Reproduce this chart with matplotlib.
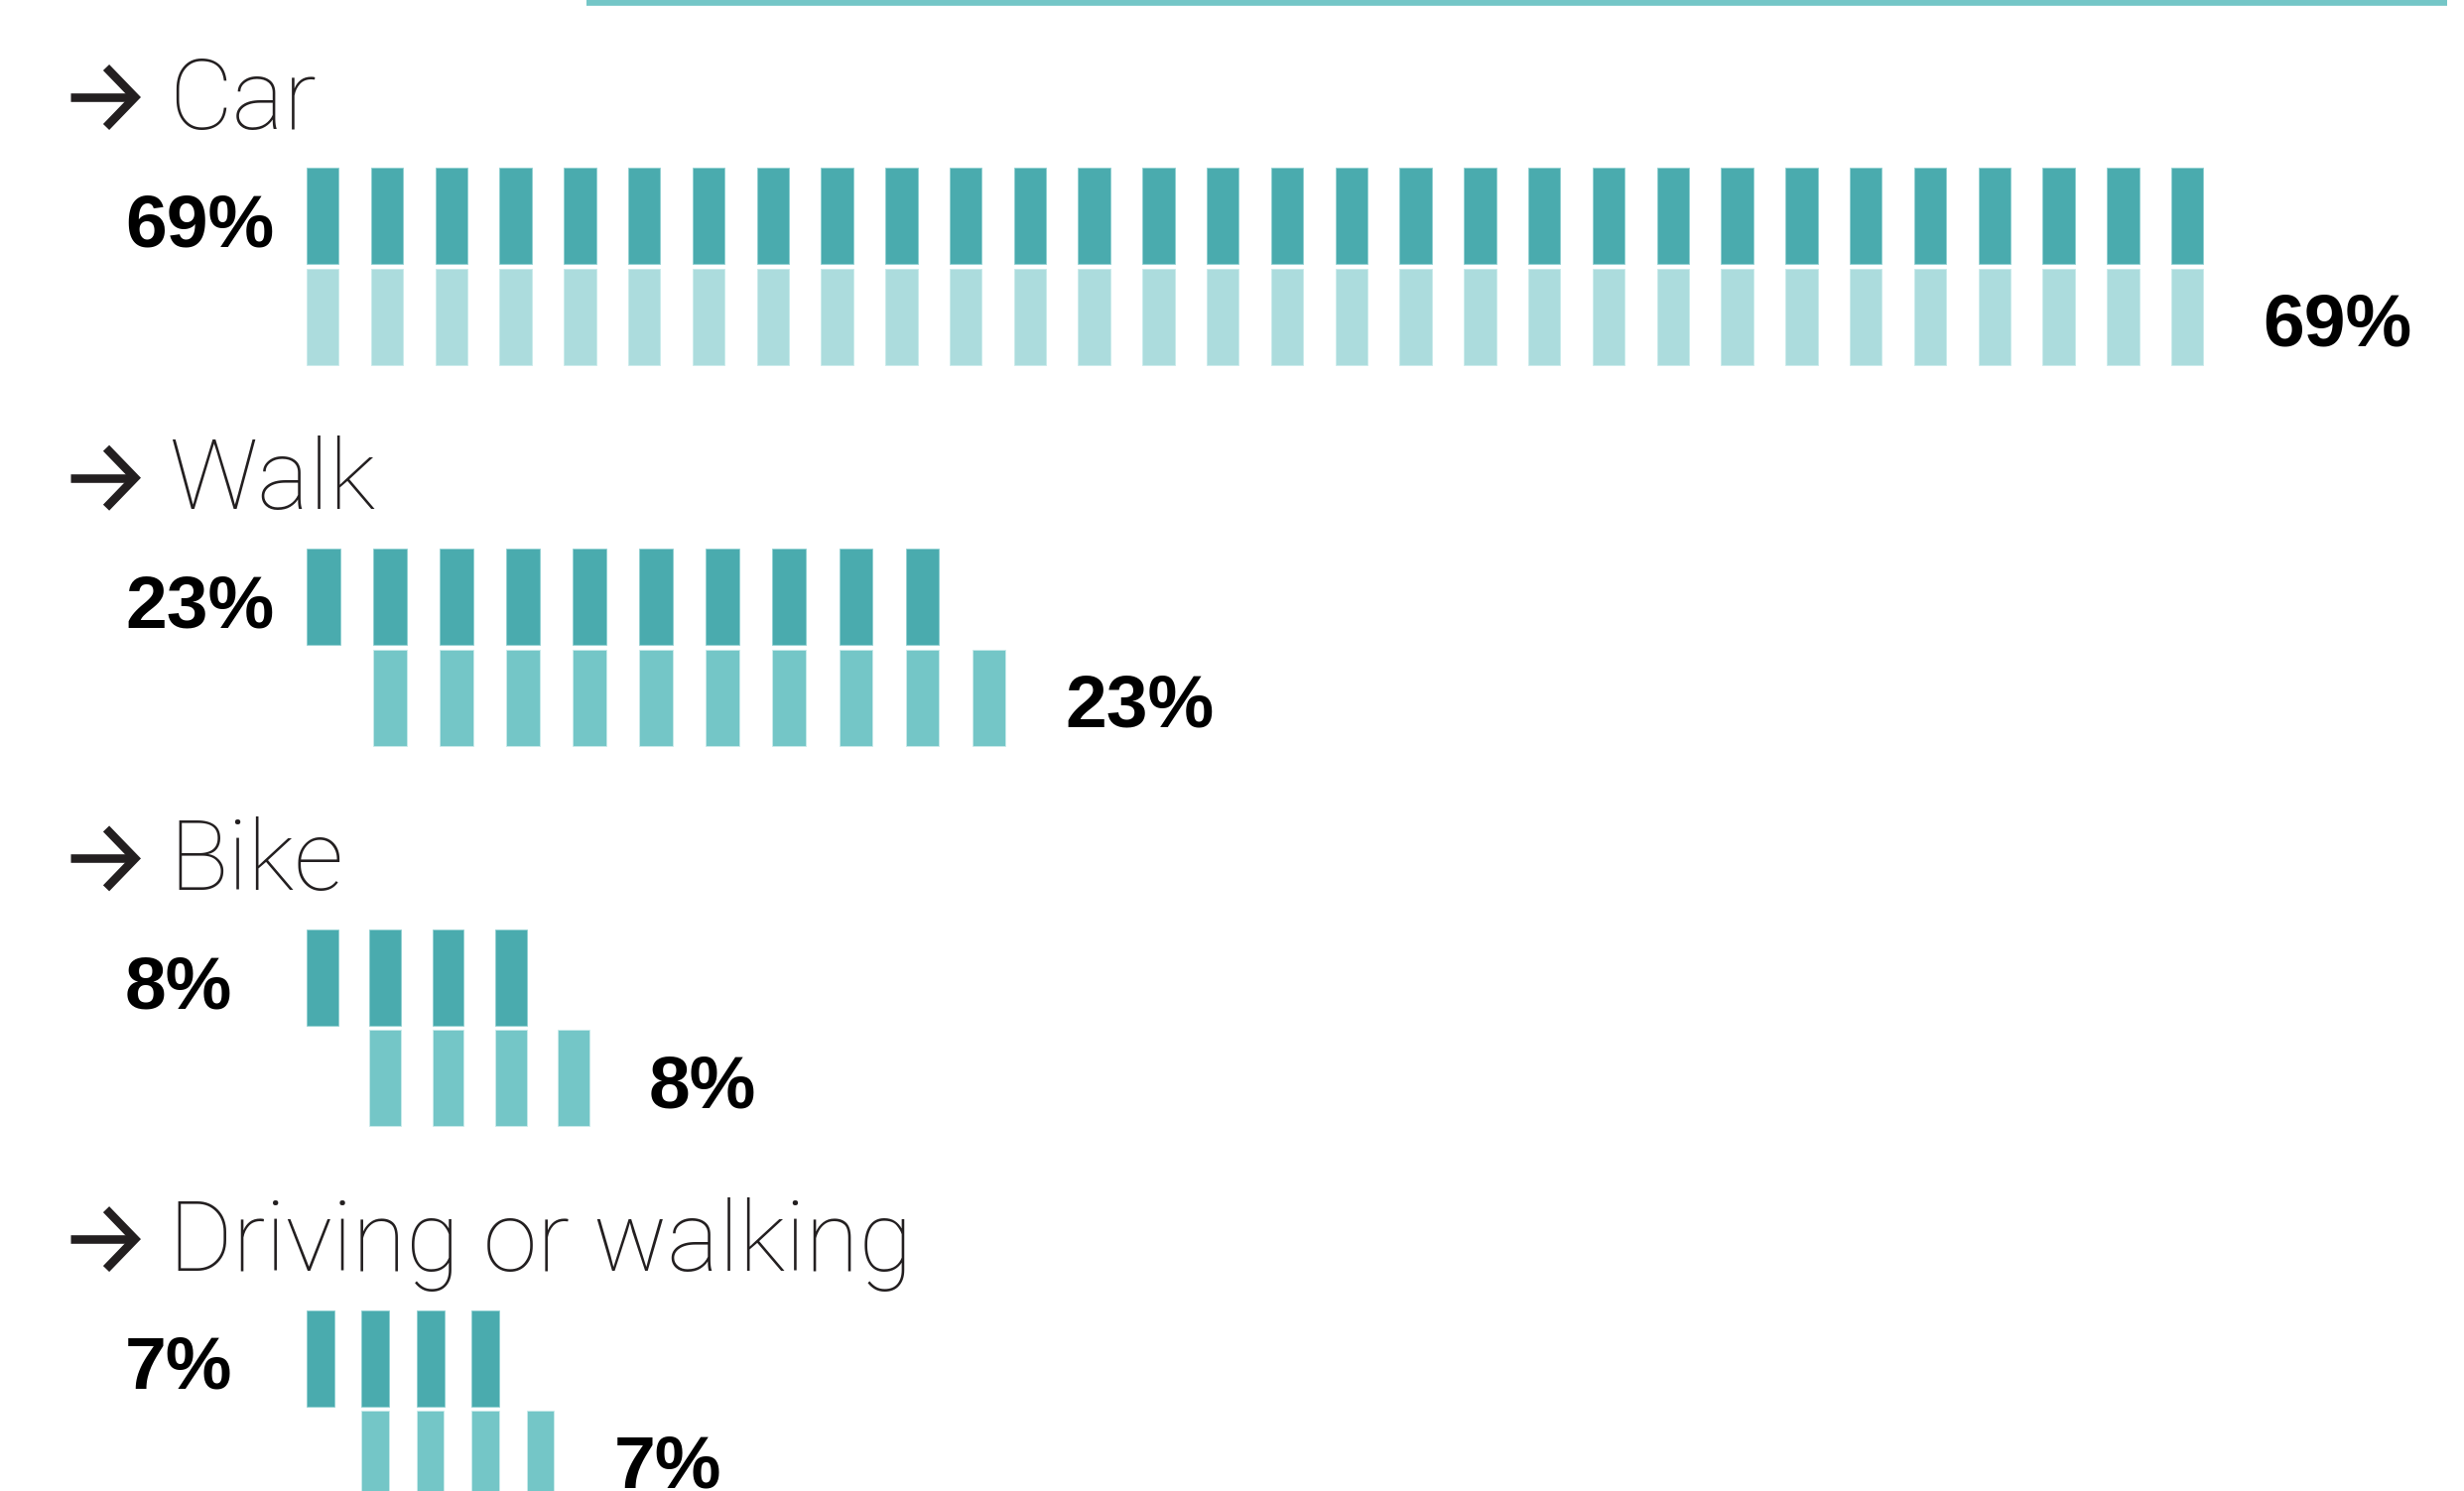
import numpy as np
import matplotlib.pyplot as plt

# Datos del gráfico
modos = ['Car', 'Walk', 'Bike', 'Driving or walking']
valores = [69, 23, 8, 7]
n_marcas = [30, 10, 4, 4]
etiquetas = [f'{v}%' for v in valores]

# Colores
oscuro = '#4aabae'
claros = ['#acdcdd', '#74c6c7', '#74c6c7', '#74c6c7']
texto = '#231f20'

# Disposicion (pixeles)
X0 = 309
PX_POR_PCT = 27.7
FILA0 = 169.4
PASO_FILA = 383.7
ALTO = 97
HUECO = 4.5
desfase_claro = [0, 1, 1, 1]

fig = plt.figure(figsize=(24.83, 15.03), dpi=100)
ax = fig.add_axes([0, 0, 1, 1])
ax.set_xlim(0, 2483)
ax.set_ylim(1503, 0)
ax.axis('off')

# linea superior recortada
ax.plot([591, 2466], [1.5, 1.5], color='#74c6c7', lw=5.5, solid_capstyle='butt')

for i, (modo, v, n) in enumerate(zip(modos, valores, n_marcas)):
    y_osc = FILA0 + i * PASO_FILA
    y_cla = y_osc + ALTO + HUECO
    paso = v * PX_POR_PCT / (n - 0.5)
    ancho = paso / 2
    xs = X0 + np.arange(n) * paso
    xs_cla = xs + desfase_claro[i] * paso

    ax.bar(xs, ALTO, width=ancho, bottom=y_osc, align='edge',
           color=oscuro, edgecolor='#8fd0d1', linewidth=0.6)
    ax.bar(xs_cla, ALTO, width=ancho, bottom=y_cla, align='edge',
           color=claros[i], edgecolor='#c9ebeb', linewidth=0.6)

    # flecha y nombre
    yc = y_osc - 71.4
    ax.plot([71, 134], [yc, yc], color=texto, lw=6.2, solid_capstyle='butt')
    ax.plot([107, 136, 107], [yc - 30, yc, yc + 30], color=texto, lw=6.2,
            solid_joinstyle='miter', solid_capstyle='butt')
    ax.text(170, y_osc - 39.6, modo, fontsize=71, family='Roboto',
            fontweight='light', color=texto, va='baseline', ha='left')

    # porcentajes
    ax.text(126, y_osc + 79.5, etiquetas[i], fontsize=54, family='Liberation Sans',
            fontweight='bold', color='black', va='baseline', ha='left')
    fin_claro = xs_cla[-1] + ancho
    ax.text(fin_claro + 60, y_cla + 78, etiquetas[i], fontsize=54,
            family='Liberation Sans', fontweight='bold', color='black',
            va='baseline', ha='left')

fig.savefig('out.png', dpi=100)
